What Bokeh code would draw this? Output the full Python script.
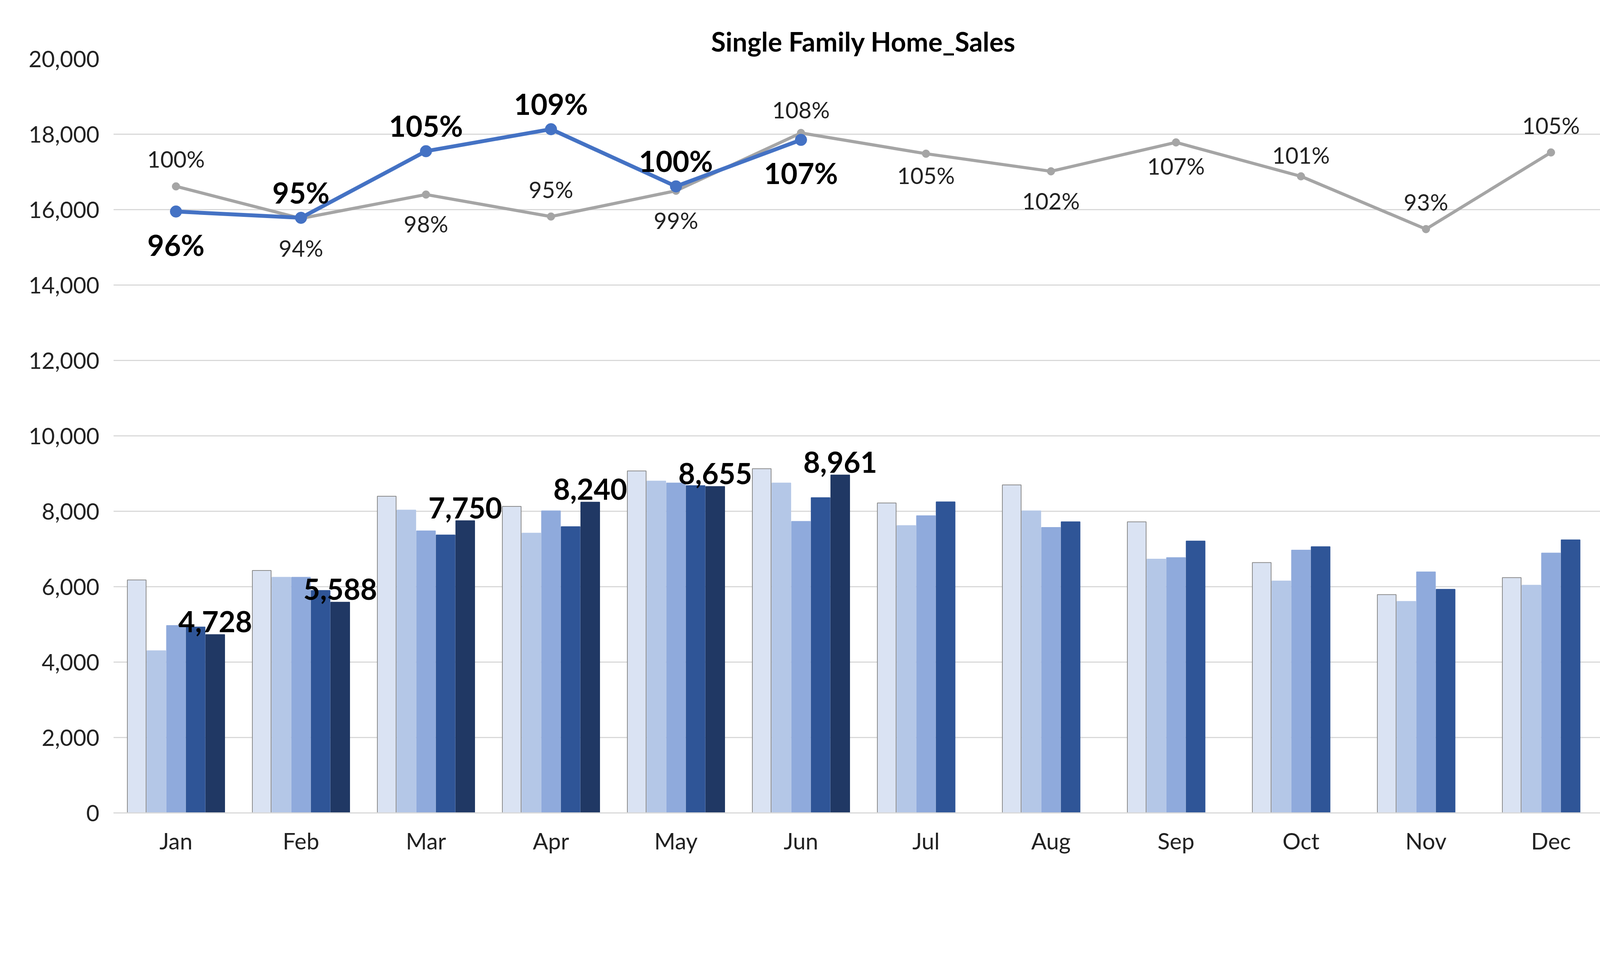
from bokeh.plotting import figure
from bokeh.models import Range1d, LinearAxis, FixedTicker, Legend, LegendItem, NumeralTickFormatter
from bokeh.core.properties import value
from bokeh.embed import file_html
from bokeh.resources import INLINE

months = ["Jan","Feb","Mar","Apr","May","Jun","Jul","Aug","Sep","Oct","Nov","Dec"]
s2022 = [6180,6430,8400,8130,9070,9130,8220,8700,7720,6640,5790,6240]
s2023 = [4300,6250,8030,7420,8800,8750,7620,8010,6730,6150,5610,6040]
s2024 = [4970,6250,7480,8010,8750,7730,7880,7570,6770,6970,6390,6890]
s2025 = [4930,5900,7370,7590,8680,8360,8250,7720,7210,7060,5930,7240]
s2026 = [4728,5588,7750,8240,8655,8961]
yoy2025 = [99.7,94.6,98.4,94.9,99.0,108.2,104.9,102.1,106.7,101.3,92.9,105.1]
yoy2025_lbl = ["100%","94%","98%","95%","99%","108%","105%","102%","107%","101%","93%","105%"]
yoy2026 = [95.7,94.7,105.3,108.8,99.7,107.1]
yoy2026_lbl = ["96%","95%","105%","109%","100%","107%"]

F = "Lato"
JP = "Noto Sans CJK JP"
p = figure(frame_width=3840, frame_height=1930, output_backend="svg", toolbar_location=None,
           x_range=Range1d(-0.5, 11.5), y_range=Range1d(0, 20000),
           min_border_left=290, min_border_right=250, min_border_top=150, min_border_bottom=20)
p.title.text = "Single Family Home_Sales"
p.title.align = "center"
p.title.text_font = F
p.title.text_font_size = "68px"
p.title.text_font_style = "bold"
p.title.text_color = "#000000"
p.outline_line_color = None

p.extra_y_ranges = {"pct": Range1d(0, 120)}
ax2 = LinearAxis(y_range_name="pct", ticker=FixedTicker(ticks=list(range(0, 121, 20))))
ax2.formatter = NumeralTickFormatter(format="0")
ax2.major_label_overrides = {t: f"{t}%" for t in range(0, 121, 20)}
p.add_layout(ax2, "right")

p.yaxis[0].ticker = FixedTicker(ticks=list(range(0, 20001, 2000)))
p.yaxis[0].formatter = NumeralTickFormatter(format="0,0")
p.xaxis.ticker = FixedTicker(ticks=list(range(12)))
p.xaxis.major_label_overrides = {i: m for i, m in enumerate(months)}
for ax in p.axis:
    ax.axis_line_color = None
    ax.major_tick_line_color = None
    ax.minor_tick_line_color = None
    ax.major_label_text_font = F
    ax.major_label_text_font_size = "58px"
    ax.major_label_text_color = "#222222"
    ax.major_label_standoff = 30
p.xaxis.axis_line_color = "#d9d9d9"
p.xaxis.axis_line_width = 3
p.xgrid.grid_line_color = None
p.ygrid.grid_line_color = "#d9d9d9"
p.ygrid.grid_line_width = 3

step = 0.157
bw = 0.15
series = [("2022", s2022, "#dae3f3"), ("2023", s2023, "#b4c7e7"), ("2024", s2024, "#8faadc"),
          ("2025", s2025, "#2f5597"), ("2026", s2026, "#203864")]
items = []
for k, (name, vals, col) in enumerate(series):
    xs = [i + (k - 2) * step for i in range(len(vals))]
    r = p.vbar(x=xs, top=vals, width=bw, fill_color=col,
               line_color="#8c8c8c" if k == 0 else col, line_width=2)
    items.append(LegendItem(label=name, renderers=[r]))

xs26 = [i + 2 * step for i in range(len(s2026))]
p.text(x=xs26, y=s2026, text=[f"{v:,}" for v in s2026], text_align="center", text_baseline="bottom",
       y_offset=-6, text_font=value(F), text_font_size="74px", text_font_style="bold", text_color="#000000")

r25l = p.line(list(range(12)), yoy2025, y_range_name="pct", line_color="#a5a5a5", line_width=8)
r25m = p.scatter(list(range(12)), yoy2025, y_range_name="pct", size=20, fill_color="#a5a5a5", line_color="#a5a5a5")
r26l = p.line(list(range(6)), yoy2026, y_range_name="pct", line_color="#4472c4", line_width=10)
r26m = p.scatter(list(range(6)), yoy2026, y_range_name="pct", size=30, fill_color="#4472c4", line_color="#4472c4")

off25 = [-70, 75, 75, -70, 75, -60, 55, 75, 60, -55, -70, -70]
off26 = [85, -65, -65, -65, -65, 85]
p.text(x=list(range(12)), y=yoy2025, y_range_name="pct", text=yoy2025_lbl, y_offset=off25,
       text_align="center", text_baseline="middle", text_font=value(F), text_font_size="58px", text_color="#222222")
p.text(x=list(range(6)), y=yoy2026, y_range_name="pct", text=yoy2026_lbl, y_offset=off26,
       text_align="center", text_baseline="middle", text_font=value(F), text_font_size="74px",
       text_font_style="bold", text_color="#000000")

items.append(LegendItem(label="前年比（2025）", renderers=[r25l, r25m]))
items.append(LegendItem(label="前年比（2026）", renderers=[r26l, r26m]))
leg = Legend(items=items, orientation="horizontal", location="center", border_line_color=None,
             label_text_font=JP, label_text_font_size="58px", label_text_color="#222222",
             glyph_width=90, glyph_height=50, spacing=40, label_standoff=10, margin=10)
p.add_layout(leg, "below")

open("out.html", "w").write(file_html(p, INLINE))
